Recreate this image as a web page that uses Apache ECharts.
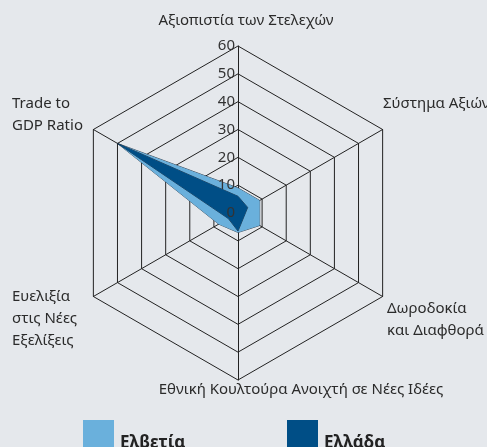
<!DOCTYPE html>
<html>
<head>
<meta charset="utf-8">
<script src="https://cdn.jsdelivr.net/npm/echarts@6/dist/echarts.min.js"></script>
<style>
html,body{margin:0;padding:0;background:#E5E8EC;}
#chart{width:487px;height:447px;}
</style>
</head>
<body>
<div id="chart"></div>
<script>
// axes, counter-clockwise from the top (echarts radar order)
var axis_name=['Αξιοπιστία των Στελεχών','Trade to\nGDP Ratio','Ευελιξία\nστις Νέες\nΕξελίξεις','Εθνική Κουλτούρα Ανοιχτή σε Νέες Ιδέες','Δωροδοκία\nκαι Διαφθορά','Σύστημα Αξιών'];
var series_name=['Ελβετία','Ελλάδα'];
var val_ch=[9,50,8,7,9,9];
var val_gr=[6,50,4,6.5,2.5,4];
var tick_val=[0,10,20,30,40,50,60];

var colors=['#6AB0DC','#004E86'];
var cx=238, cy=213, rad=167;

// where the axis names sit
var name_pos=[
	{x:246,y:21,align:'center'},
	{x:12,y:104,align:'left'},
	{x:12,y:297,align:'left'},
	{x:301,y:390,align:'center'},
	{x:387,y:309,align:'left'},
	{x:383,y:104,align:'left'}
];

var indicator=[];
for(var i=0;i<axis_name.length;i++){
	indicator.push({name:axis_name[i],min:tick_val[0],max:tick_val[tick_val.length-1]});
}

var names=[];
for(var j=0;j<axis_name.length;j++){
	var lines=axis_name[j].split('\n');
	for(var k=0;k<lines.length;k++){
		names.push({
			type:'text',
			x:name_pos[j].x,
			y:name_pos[j].y+k*22,
			style:{
				text:lines[k],
				fill:'#2b2b2b',
				font:'15px "Noto Sans"',
				textAlign:name_pos[j].align,
				textVerticalAlign:'middle'
			}
		});
	}
}

var option={
	backgroundColor:'#E5E8EC',
	animation:false,
	textStyle:{fontFamily:'Noto Sans'},
	legend:[
		{data:[series_name[0]],left:78,top:415,itemWidth:31,itemHeight:46,icon:'rect',
		 textStyle:{fontSize:17,fontWeight:'bold',color:'#222',padding:[0,0,0,1]}},
		{data:[series_name[1]],left:282,top:415,itemWidth:31,itemHeight:46,icon:'rect',
		 textStyle:{fontSize:17,fontWeight:'bold',color:'#222',padding:[0,0,0,1]}}
	],
	radar:{
		center:[cx,cy],
		radius:rad,
		startAngle:90,
		shape:'polygon',
		splitNumber:tick_val.length-1,
		indicator:indicator,
		axisName:{show:false},
		axisLine:{lineStyle:{color:'#222',width:1}},
		splitLine:{lineStyle:{color:'#222',width:1}},
		splitArea:{show:false}
	},
	polar:{center:[cx,cy],radius:rad},
	angleAxis:{show:false,startAngle:90,min:0,max:360},
	radiusAxis:{
		type:'value',
		z:10,
		min:tick_val[0],
		max:tick_val[tick_val.length-1],
		interval:10,
		axisLine:{show:false},
		axisTick:{show:false},
		splitLine:{show:false},
		axisLabel:{show:true,margin:3,color:'#333',fontSize:15,fontFamily:'Noto Sans'}
	},
	graphic:names,
	series:[
		{
			name:'radar',
			type:'radar',
			symbol:'none',
			data:[
				{value:val_ch,name:series_name[0],
				 itemStyle:{color:colors[0]},
				 lineStyle:{color:'#1b2a3a',width:0.8},
				 areaStyle:{color:colors[0],opacity:1}},
				{value:val_gr,name:series_name[1],
				 itemStyle:{color:colors[1]},
				 lineStyle:{color:'#1b2a3a',width:0.8},
				 areaStyle:{color:colors[1],opacity:1}}
			]
		}
	]
};

var myChart=echarts.init(document.getElementById('chart'));
myChart.setOption(option);
</script>
</body>
</html>
